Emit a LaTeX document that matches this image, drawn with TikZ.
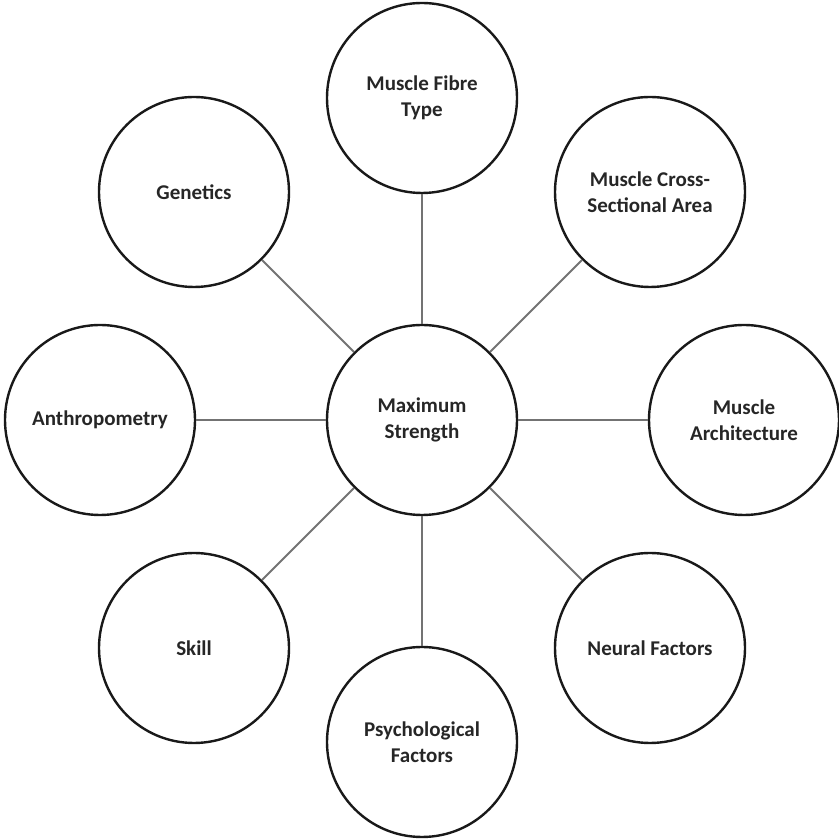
\documentclass[tikz,border=0pt]{standalone}
\usepackage{fontspec}
\setmainfont{Carlito}
\usetikzlibrary{positioning}
\tikzstyle{factor} = [draw=black!90, circle, line width=2.4pt, minimum size=190pt, inner sep=0pt, align=center, text=black!85, font=\bfseries\fontsize{21}{26.5}\selectfont]
\tikzstyle{link} = [draw=black!55, line width=2pt]
\begin{document}
\begin{tikzpicture}[x=1pt,y=1pt]
	\useasboundingbox (0,0) rectangle (838,840);
	\node [factor] (strength) at (422,420) {Maximum\\Strength};
	\node [factor] (fibre) at (422,742) {Muscle Fibre\\Type};
	\node [factor] (area) at (650,648) {Muscle Cross-\\Sectional Area};
	\node [factor] (architecture) at (744,420) {Muscle\\Architecture};
	\node [factor] (neural) at (650,192) {Neural Factors};
	\node [factor] (psych) at (422,98) {Psychological\\Factors};
	\node [factor] (skill) at (194,192) {Skill};
	\node [factor] (anthro) at (100,420) {Anthropometry};
	\node [factor] (genetics) at (194,648) {Genetics};
	% spokes
	\draw [link] (strength) -- (fibre);
	\draw [link] (strength) -- (area);
	\draw [link] (strength) -- (architecture);
	\draw [link] (strength) -- (neural);
	\draw [link] (strength) -- (psych);
	\draw [link] (strength) -- (skill);
	\draw [link] (strength) -- (anthro);
	\draw [link] (strength) -- (genetics);
\end{tikzpicture}
\end{document}
